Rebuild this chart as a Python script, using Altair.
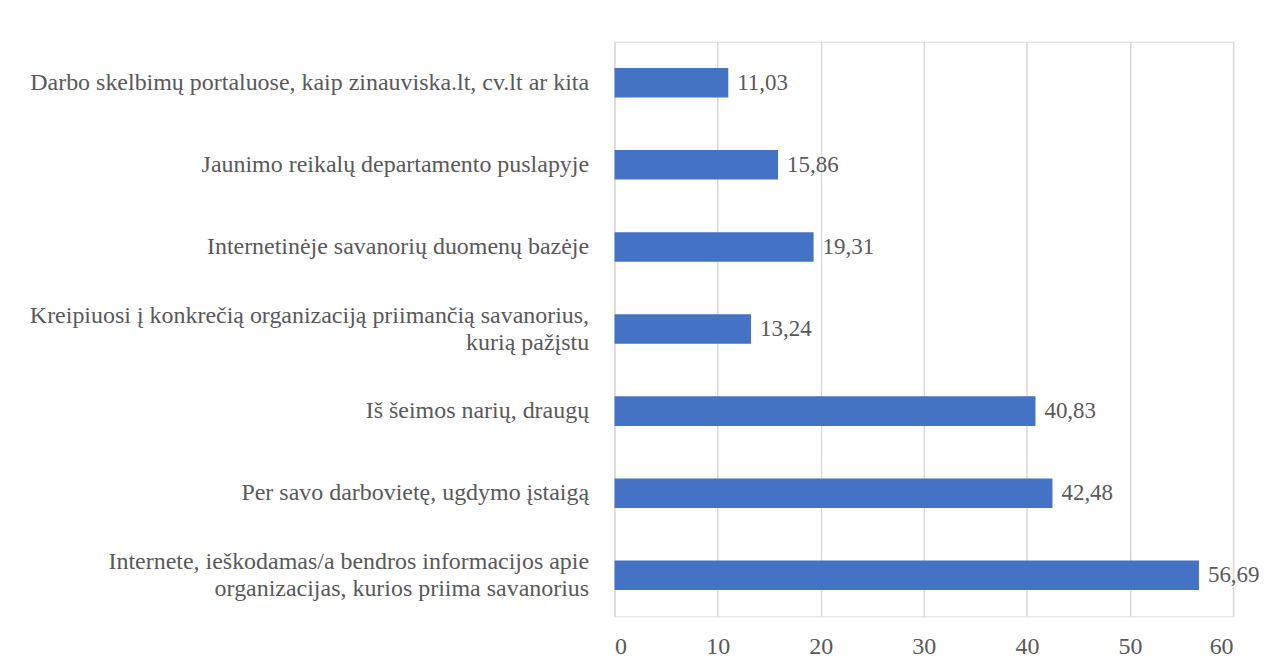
import altair as alt
import pandas as pd

categories = [
    "Darbo skelbimų portaluose, kaip zinauviska.lt, cv.lt ar kita",
    "Jaunimo reikalų departamento puslapyje",
    "Internetinėje savanorių duomenų bazėje",
    "Kreipiuosi į konkrečią organizaciją priimančią savanorius,|kurią pažįstu",
    "Iš šeimos narių, draugų",
    "Per savo darbovietę, ugdymo įstaigą",
    "Internete, ieškodamas/a bendros informacijos apie|organizacijas, kurios priima savanorius",
]
values = [11.03, 15.86, 19.31, 13.24, 40.83, 42.48, 56.69]
x_ticks = [0, 10, 20, 30, 40, 50, 60]

df = pd.DataFrame({"category": categories, "value": values})

FONT = "Liberation Serif"
TXT = "#595959"

base = alt.Chart(df).encode(
    y=alt.Y(
        "category:N",
        sort=categories,
        scale=alt.Scale(paddingInner=0.64, paddingOuter=0.32),
        axis=alt.Axis(
            title=None,
            labelExpr="split(datum.label, '|')",
            labelOffset={"expr": "indexof(datum.value, '|') >= 0 ? -13 : 0"},
            labelFont=FONT,
            labelFontSize=24,
            labelColor=TXT,
            labelPadding=26,
            labelLineHeight=27,
            labelLimit=600,
            ticks=False,
            domain=False,
            grid=False,
        ),
    ),
)

bars = base.mark_bar(color="#4472C4").encode(
    x=alt.X(
        "value:Q",
        scale=alt.Scale(domain=[0, 60]),
        axis=alt.Axis(
            title=None,
            values=x_ticks,
            labelFont=FONT,
            labelFontSize=24,
            labelColor=TXT,
            labelPadding=18,
            ticks=False,
            domain=False,
            grid=True,
            gridColor="#D9D9D9",
            gridWidth=1.5,
        ),
    )
)

labels = base.transform_calculate(
    lbl="replace(format(datum.value, '.2f'), '.', ',')"
).mark_text(
    align="left", baseline="middle", dx=9, font=FONT, fontSize=23, color=TXT
).encode(x="value:Q", text="lbl:N")

chart = (
    alt.layer(bars, labels)
    .properties(
        width=620,
        height=576,
        autosize=alt.AutoSizeParams(type="none"),
        padding={"left": 608, "top": 33, "right": 28, "bottom": 45},
    )
    .configure_view(stroke=None)
    .configure(background="white")
)

chart.save("out.html", embed_options={"renderer": "svg", "actions": False})
